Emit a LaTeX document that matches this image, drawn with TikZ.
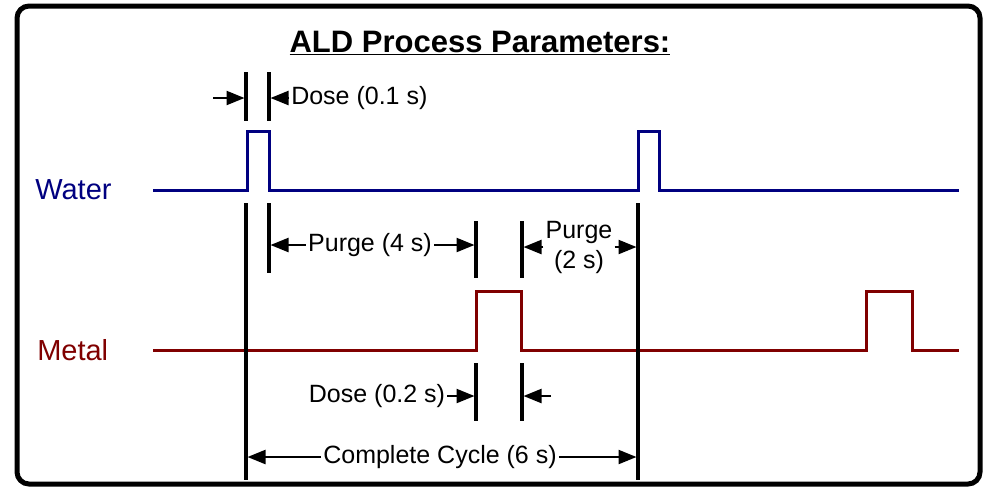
\documentclass[tikz,border=0pt]{standalone}
\usepackage{fontspec}
\setmainfont{Liberation Sans}
\usetikzlibrary{arrows.meta, positioning}
\definecolor{waterblue}{RGB}{0,0,128}
\definecolor{metalred}{RGB}{128,0,0}

\begin{document}
\begin{tikzpicture}[
    x=0.75pt, y=-0.75pt,
    lbl/.style={inner sep=1.5pt, font=\fontsize{18.75}{22.5}\selectfont, align=center},
    chan/.style={inner sep=0pt, anchor=west, font=\fontsize{21.75}{26}\selectfont},
    water/.style={draw=waterblue, line width=2.25pt},
    metal/.style={draw=metalred, line width=2.25pt},
    tickline/.style={line width=2.4pt},
    arr/.style={-{Triangle[length=13.5pt, width=10.5pt]}, line width=1.7pt},
]
    \useasboundingbox (0,0) rectangle (984,487);
    \draw[line width=3.75pt, rounded corners=9pt] (17,6) rectangle (980,484);

    \node[font=\bfseries\fontsize{23.25}{28}\selectfont] (title) at (480,43) {\underline{ALD Process Parameters:}};

    % channels
    \node[chan, text=waterblue] (water) at (35,190) {Water};
    \node[chan, text=metalred] (metal) at (37,350) {Metal};
    \draw[water] (153,190) -| (247,131) -| (269,190) -| (638,131) -| (659,190) -- (959,190);
    \draw[metal] (153,350) -| (476,291) -| (521,350) -| (866,291) -| (912,350) -- (959,350);

    % timing marks
    \draw[tickline] (246,72) -- (246,121);
    \draw[tickline] (269,72) -- (269,121);
    \draw[tickline] (246,203) -- (246,480);
    \draw[tickline] (269,203) -- (269,273);
    \draw[tickline] (476,221) -- (476,278);
    \draw[tickline] (522,221) -- (522,278);
    \draw[tickline] (638,203) -- (638,480);
    \draw[tickline] (476,363) -- (476,421);
    \draw[tickline] (522,363) -- (522,421);

    \coordinate (d1tail) at (213,98);
    \coordinate (d1l) at (244.5,98);
    \coordinate (d1r) at (270.5,98);
    \coordinate (p4l) at (270.5,245);
    \coordinate (p4r) at (474.5,245);
    \coordinate (p2l) at (523.5,247);
    \coordinate (p2r) at (636.5,247);
    \coordinate (d2r) at (474.5,396);
    \coordinate (d2tail) at (551,396);
    \coordinate (d2l) at (523.5,396);
    \coordinate (cyl) at (247.5,457);
    \coordinate (cyr) at (636.5,457);

    \node[lbl, anchor=west] (dose1) at (289,98) {Dose (0.1 s)};
    \node[lbl] (purge4) at (370,245) {Purge (4 s)};
    \node[lbl] (purge2) at (579,247) {Purge\\(2 s)};
    \node[lbl] (dose2) at (377,396) {Dose (0.2 s)};
    \node[lbl] (cycle) at (440,457) {Complete Cycle (6 s)};

    \draw[arr] (d1tail) -- (d1l);
    \draw[arr] (dose1.west) -- (d1r);
    \draw[arr] (purge4.west) -- (p4l);
    \draw[arr] (purge4.east) -- (p4r);
    \draw[arr] (purge2.west) -- (p2l);
    \draw[arr] (purge2.east) -- (p2r);
    \draw[arr] (dose2.east) -- (d2r);
    \draw[arr] (d2tail) -- (d2l);
    \draw[arr] (cycle.west) -- (cyl);
    \draw[arr] (cycle.east) -- (cyr);
\end{tikzpicture}
\end{document}
